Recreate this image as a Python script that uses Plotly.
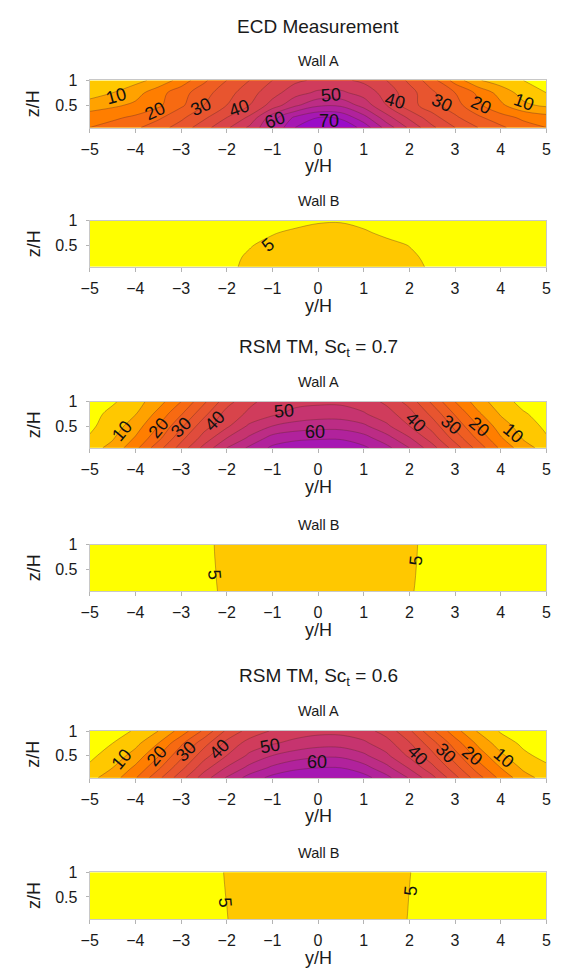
import plotly.graph_objects as go

# ---------------- data ----------------
Y_POS = [-5, -4.5, -4, -3.5, -3, -2.5, -2, -1.5, -1, -0.5, 0, 0.5, 1, 1.5, 2, 2.5, 3, 3.5, 4, 4.5, 5]
Z_POS = [0.05, 0.25, 0.5, 0.75, 1.0]
X_TICKS = [-5, -4, -3, -2, -1, 0, 1, 2, 3, 4, 5]
Z_TICKS = [0.5, 1]
Z_TICK_TEXT = ["0.5", "1"]

# rows: z/H = 0.05, 0.25, 0.5, 0.75, 1.0 ; columns: y/H = -5 ... 5
ECD_WALL_A = [
    [20, 22, 24, 28, 32, 38, 44, 51, 60, 70, 75, 75, 68, 58, 49, 41, 35, 30, 26, 22, 20],
    [18, 19, 21, 24, 29, 34, 40, 46, 58, 66, 70, 69, 62, 52, 44, 37, 31, 26, 22, 19, 17],
    [12, 14, 16, 19, 24, 30, 35, 40, 47, 54, 59, 59, 53, 45, 37, 32, 27, 21, 16, 11, 9],
    [8, 10, 13, 18, 23, 28, 33, 38, 43, 48, 51, 51, 48, 43, 37, 31, 25, 19, 13, 8, 5],
    [6, 7, 8.5, 11.5, 17, 24, 30, 35, 40, 44, 46, 46, 44, 40, 34, 27, 18, 10.5, 7.5, 5, 3.5],
]
ECD_WALL_B = [
    [2.6, 2.7, 2.9, 3.2, 3.6, 4.1, 4.7, 5.3, 5.7, 6.1, 6.3, 6.3, 6.1, 5.8, 5.4, 4.8, 4.0, 3.5, 3.1, 2.8, 2.6],
    [2.5, 2.6, 2.8, 3.1, 3.5, 4.0, 4.6, 5.2, 5.6, 6.0, 6.2, 6.2, 6.0, 5.7, 5.3, 4.6, 3.9, 3.4, 3.0, 2.7, 2.5],
    [2.4, 2.5, 2.7, 3.0, 3.4, 3.8, 4.3, 4.9, 5.4, 5.8, 6.0, 6.0, 5.8, 5.4, 4.95, 4.5, 3.8, 3.3, 2.9, 2.6, 2.4],
    [2.2, 2.3, 2.5, 2.8, 3.1, 3.5, 3.9, 4.4, 4.9, 5.3, 5.5, 5.5, 5.2, 4.7, 4.2, 3.7, 3.3, 2.9, 2.6, 2.4, 2.2],
    [2.0, 2.0, 2.2, 2.4, 2.6, 2.9, 3.2, 3.6, 4.0, 4.5, 4.85, 4.9, 4.6, 4.2, 3.8, 3.4, 3.0, 2.7, 2.4, 2.2, 2.0],
]
RSM07_WALL_A = [
    [8, 11.5, 18.5, 28, 37, 46.5, 55, 61, 66, 67.5, 68, 68, 66, 61.5, 55, 47, 37.5, 28, 19, 12, 8],
    [5.5, 9.5, 15.5, 23.5, 33.5, 42, 50, 56, 62, 64, 64.5, 64.5, 62, 57, 50.5, 42.5, 33, 24, 15.5, 9.5, 5.5],
    [4, 7.5, 12.5, 20, 29, 38, 44, 51, 55, 57, 58, 58, 56, 51, 45, 38, 28.5, 20, 12.5, 7.5, 4],
    [3, 6.5, 9.7, 16.5, 24.5, 33.5, 42, 46, 49, 51.5, 52.5, 52.5, 50.5, 47, 42, 33.5, 24.5, 16, 9.5, 5.5, 3],
    [2, 4.3, 7.9, 12.9, 20, 29, 38, 44, 47, 48.5, 49, 49, 47.5, 44, 38, 29, 20, 12.5, 7, 3.5, 2],
]
RSM07_WALL_B = [
    [2.2, 2.6, 3.0, 3.5, 3.9, 4.1, 5.6, 6.4, 6.9, 7.2, 7.3, 7.3, 7.2, 6.9, 5.15, 4.4, 3.8, 3.3, 2.8, 2.4, 2.1],
    [2.2, 2.6, 3.0, 3.5, 3.95, 4.25, 5.6, 6.4, 6.9, 7.2, 7.3, 7.3, 7.2, 6.9, 5.2, 4.4, 3.8, 3.3, 2.8, 2.4, 2.1],
    [2.1, 2.5, 3.0, 3.5, 4.0, 4.35, 5.6, 6.35, 6.85, 7.15, 7.25, 7.25, 7.15, 6.85, 5.25, 4.4, 3.8, 3.25, 2.75, 2.35, 2.05],
    [2.1, 2.5, 2.95, 3.5, 4.05, 4.45, 5.6, 6.3, 6.8, 7.1, 7.2, 7.2, 7.1, 6.8, 5.3, 4.4, 3.75, 3.2, 2.7, 2.3, 2.0],
    [2.0, 2.4, 2.9, 3.45, 4.1, 4.5, 5.6, 6.25, 6.75, 7.05, 7.15, 7.15, 7.05, 6.75, 5.34, 4.4, 3.7, 3.15, 2.65, 2.25, 2.0],
]
RSM06_WALL_A = [
    [8.5, 12.5, 19.5, 28.5, 38, 47.5, 55.5, 62, 66.5, 68.5, 69, 69, 67, 61.5, 54.5, 46.5, 36.5, 27, 18.5, 12, 8],
    [5.8, 10, 16, 24, 33.5, 43, 50.5, 56.5, 61, 64, 65, 65, 62, 56.5, 49.5, 41.5, 32, 22.5, 15, 9, 6],
    [4, 7, 12, 19.5, 28.5, 38, 45, 51, 55, 57.5, 59, 59, 56, 51, 44, 36.5, 27, 18, 11, 6, 3.5],
    [2.5, 5, 8.5, 15, 24, 33, 41.5, 47, 49.5, 51.5, 53, 53, 51, 47, 40.5, 32, 22.5, 14, 7.5, 4, 2.5],
    [1.5, 3, 5.5, 10, 17, 26, 36, 42, 45.5, 47.5, 48.5, 48.5, 47, 43, 36, 26, 17, 9.5, 4.5, 2.5, 1.5],
]
RSM06_WALL_B = [
    [2.1, 2.5, 3.0, 3.5, 3.9, 4.3, 4.94, 6.0, 6.6, 6.9, 7.0, 7.0, 6.9, 6.0, 4.89, 4.3, 3.8, 3.3, 2.8, 2.4, 2.1],
    [2.1, 2.5, 3.0, 3.5, 3.9, 4.3, 4.98, 6.0, 6.6, 6.9, 7.0, 7.0, 6.9, 6.0, 4.93, 4.3, 3.8, 3.3, 2.8, 2.4, 2.1],
    [2.0, 2.4, 2.9, 3.4, 3.9, 4.3, 5.03, 6.0, 6.55, 6.85, 6.95, 6.95, 6.85, 6.0, 4.97, 4.3, 3.75, 3.25, 2.75, 2.35, 2.05],
    [2.0, 2.4, 2.9, 3.4, 3.85, 4.3, 5.07, 6.0, 6.5, 6.8, 6.9, 6.9, 6.8, 6.0, 5.01, 4.3, 3.7, 3.2, 2.7, 2.3, 2.0],
    [1.9, 2.3, 2.8, 3.3, 3.8, 4.3, 5.11, 6.0, 6.5, 6.75, 6.85, 6.85, 6.75, 6.0, 5.045, 4.3, 3.7, 3.2, 2.7, 2.3, 2.0],
]

# contour labels: (level, y/H, z/H, text angle)
ECD_A_LABELS = [(10, -4.42, 0.69, -15), (20, -3.57, 0.38, -25), (30, -2.57, 0.46, -25),
                (40, -1.72, 0.45, -20), (60, -0.95, 0.2, -20), (50, 0.29, 0.71, -5),
                (70, 0.25, 0.18, 0), (40, 1.68, 0.59, 15), (30, 2.72, 0.55, 25),
                (20, 3.57, 0.5, 25), (10, 4.5, 0.57, 20)]
ECD_B_LABELS = [(5, -1.1, 0.5, -40)]
RSM07_A_LABELS = [(10, -4.29, 0.40, -50), (20, -3.49, 0.45, -50), (30, -2.99, 0.48, -45),
                  (40, -2.26, 0.60, -45), (50, -0.75, 0.80, -5), (60, -0.06, 0.38, 0),
                  (40, 2.14, 0.59, 45), (30, 2.92, 0.52, 40), (20, 3.53, 0.48, 40),
                  (10, 4.27, 0.35, 40)]
RSM07_B_LABELS = [(5, -2.26, 0.39, 85), (5, 2.14, 0.67, -85)]
RSM06_A_LABELS = [(10, -4.29, 0.42, -50), (20, -3.53, 0.49, -50), (30, -2.88, 0.59, -45),
                  (40, -2.16, 0.64, -45), (50, -1.06, 0.69, -10), (60, -0.02, 0.36, 0),
                  (40, 2.18, 0.52, 45), (30, 2.8, 0.56, 45), (20, 3.38, 0.49, 40),
                  (10, 4.07, 0.46, 40)]
RSM06_B_LABELS = [(5, -2.03, 0.38, 85), (5, 2.03, 0.62, -85)]

LEVEL_START, LEVEL_END, LEVEL_STEP = 5, 70, 5

GROUP_TITLES = ["ECD Measurement", "RSM TM, Sc<sub>t</sub> = 0.7", "RSM TM, Sc<sub>t</sub> = 0.6"]
WALL_NAMES = ["Wall A", "Wall B"]

# ---------------- styling ----------------
W, H = 567, 977
FONT = "Liberation Sans, Arial, Helvetica, sans-serif"
BAND_COLORS = ["#FFFF00", "#FFC800", "#FFA200", "#FF7E00", "#F76A12", "#EF5E22", "#E8552F",
               "#E04C3C", "#D8444B", "#D03C5C", "#C6346F", "#BC2C85", "#B1229C", "#A618B3", "#9A0CC8"]
COLORSCALE = [[k / (len(BAND_COLORS) - 1), c] for k, c in enumerate(BAND_COLORS)]
LINE_COLOR = "rgba(90,40,40,0.45)"
FRAME = "#c8c8c8"
TXT = "#1a1a1a"

X_L, X_R = 82.7, 551.0
PANEL_PX = [(73, 120.5), (214.5, 261), (397, 443.5), (541, 588), (729, 776), (871.5, 918.5)]


def py(p):
    return 1 - p / H


panels = [
    (ECD_WALL_A, ECD_A_LABELS), (ECD_WALL_B, ECD_B_LABELS),
    (RSM07_WALL_A, RSM07_A_LABELS), (RSM07_WALL_B, RSM07_B_LABELS),
    (RSM06_WALL_A, RSM06_A_LABELS), (RSM06_WALL_B, RSM06_B_LABELS),
]

fig = go.Figure()
layout = dict(
    width=W, height=H, margin=dict(l=0, r=0, t=0, b=0),
    paper_bgcolor="white", plot_bgcolor="white",
    font=dict(family=FONT, color=TXT), showlegend=False,
)
annotations = []
x_center = (X_L + X_R) / 2 / W

for i, (data, labels) in enumerate(panels):
    n = i + 1
    xa = "x" if n == 1 else f"x{n}"
    ya = "y" if n == 1 else f"y{n}"
    top, bot = PANEL_PX[i]
    fig.add_trace(go.Contour(
        x=Y_POS, y=Z_POS, z=data, xaxis=xa, yaxis=ya,
        autocontour=False,
        contours=dict(start=LEVEL_START, end=LEVEL_END, size=LEVEL_STEP,
                      coloring="fill", showlines=True),
        colorscale=COLORSCALE, showscale=False,
        line=dict(color=LINE_COLOR, width=0.8, smoothing=1),
        hoverinfo="skip",
    ))
    layout["xaxis" if n == 1 else f"xaxis{n}"] = dict(
        domain=[X_L / W, X_R / W], anchor=ya, range=[-5, 5],
        tickmode="array", tickvals=X_TICKS, ticks="outside", ticklen=4,
        tickcolor="#b4b4b4", tickfont=dict(size=16, family=FONT, color=TXT),
        ticklabelstandoff=3,
        showline=True, mirror=True, linecolor=FRAME, linewidth=1,
        showgrid=False, zeroline=False,
    )
    layout["yaxis" if n == 1 else f"yaxis{n}"] = dict(
        domain=[py(bot), py(top)], anchor=xa, range=[0.05, 1.0],
        tickmode="array", tickvals=Z_TICKS, ticktext=Z_TICK_TEXT, ticks="outside", ticklen=3,
        tickcolor="#b4b4b4", tickfont=dict(size=16, family=FONT, color=TXT),
        ticklabelstandoff=5,
        showline=True, mirror=True, linecolor=FRAME, linewidth=1,
        showgrid=False, zeroline=False,
    )
    annotations.append(dict(text=WALL_NAMES[i % 2], xref="paper", yref="paper",
                            x=x_center, y=py(top - 20), showarrow=False,
                            xanchor="center", yanchor="middle",
                            font=dict(size=14.5, family=FONT, color=TXT)))
    if i % 2 == 0:
        annotations.append(dict(text=GROUP_TITLES[i // 2], xref="paper", yref="paper",
                                x=x_center, y=py(top - 54), showarrow=False,
                                xanchor="center", yanchor="middle",
                                font=dict(size=19, family=FONT, color=TXT)))
    annotations.append(dict(text="y/H", xref="paper", yref="paper",
                            x=x_center, y=py(bot + 39), showarrow=False,
                            xanchor="center", yanchor="middle",
                            font=dict(size=18, family=FONT, color=TXT)))
    annotations.append(dict(text="z/H", xref="paper", yref="paper",
                            x=25 / W, y=py((top + bot) / 2), showarrow=False,
                            textangle=-90, xanchor="center", yanchor="middle",
                            font=dict(size=18, family=FONT, color=TXT)))
    for lev, yv, zv, ang in labels:
        annotations.append(dict(text=str(lev), xref=xa, yref=ya, x=yv, y=zv,
                                showarrow=False, textangle=ang,
                                xanchor="center", yanchor="middle",
                                font=dict(size=18, family=FONT, color="#111111")))

layout["annotations"] = annotations
fig.update_layout(**layout)
fig.write_html(
    "out.html",
    config={"displayModeBar": False},
    post_script="document.body.style.margin='0px';document.body.style.overflow='hidden';",
)
